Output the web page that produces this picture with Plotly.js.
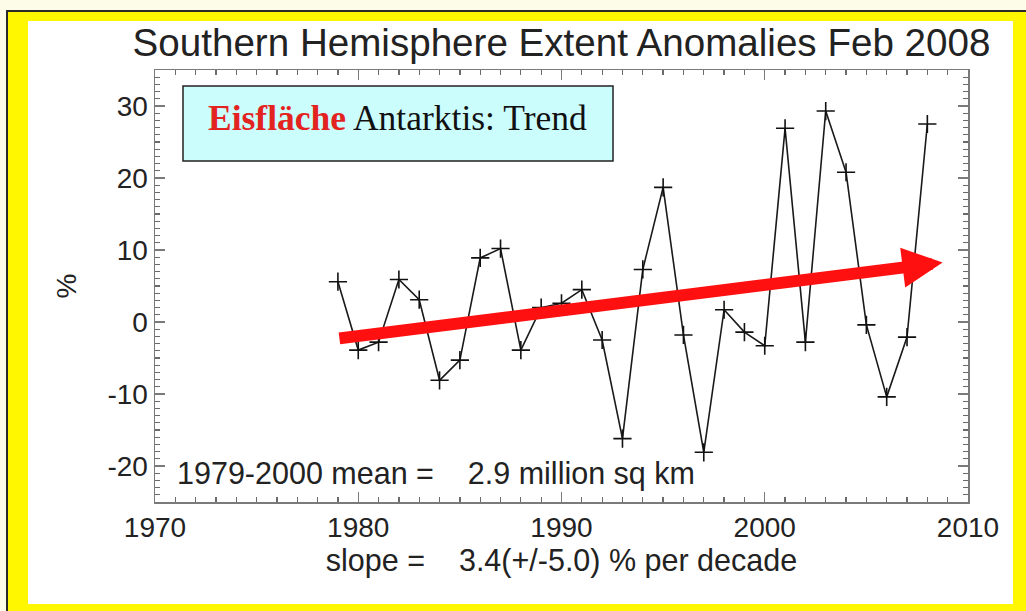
<!DOCTYPE html>
<html>
<head>
<meta charset="utf-8">
<script src="https://cdn.plot.ly/plotly-3.0.1.min.js"></script>
<style>
  html, body { margin: 0; padding: 0; background: #fdfce8; }
  #chart { width: 1026px; height: 611px; }
</style>
</head>
<body>
<div id="chart"></div>
<script>
// ---- data ----
var years = [1979, 1980, 1981, 1982, 1983, 1984, 1985, 1986, 1987, 1988,
             1989, 1990, 1991, 1992, 1993, 1994, 1995, 1996, 1997, 1998,
             1999, 2000, 2001, 2002, 2003, 2004, 2005, 2006, 2007, 2008];
var anomalies = [5.6, -3.9, -2.8, 5.9, 3.1, -8.1, -5.3, 8.9, 10.2, -3.9,
                 2.0, 2.6, 4.5, -2.5, -16.2, 7.3, 18.7, -1.8, -18.1, 1.7,
                 -1.4, -3.3, 26.9, -2.8, 29.3, 20.8, -0.4, -10.4, -2.1, 27.5];
var xTickVals = [1970, 1980, 1990, 2000, 2010];
var xTickText = ['1970', '1980', '1990', '2000', '2010'];
var yTickVals = [-20, -10, 0, 10, 20, 30];
var yTickText = ['-20', '-10', '0', '10', '20', '30'];
var xRange = [1970, 2010];
var yRange = [-25, 35];
var xMinorStep = 1;   // years between minor ticks
var yMinorStep = 1;   // percent between minor ticks
// trend arrow: start (year, %) and tip (year, %)
var trendYears = [1979, 2008.75];
var trendValues = [-2.3, 8.25];

var chartTitle = 'Southern Hemisphere Extent Anomalies Feb 2008';
var xTitle = 'slope =\u00a0\u00a0\u00a0 3.4(+/-5.0) % per decade';
var yTitle = '%';
var meanText = '1979-2000 mean =\u00a0\u00a0\u00a0 2.9 million sq km';
var boxText = '<b><span style="color:#e3231f">Eisfläche</span></b> Antarktis: Trend';

// ---- layout helpers (pixel -> paper) ----
var W = 1026, H = 611, L = 155, R = 58, T = 70, B = 109;
var pw = W - L - R, ph = H - T - B;
function px(x) { return (x - L) / pw; }
function py(y) { return (H - B - y) / ph; }

var sans = 'Liberation Sans, Arial, Helvetica, sans-serif';
var txt = '#222222';
var axisCol = '#7a7a7a';

var traces = [{
  x: years,
  y: anomalies,
  type: 'scatter',
  mode: 'lines+markers',
  line: { color: '#1a1a1a', width: 1.6 },
  marker: { symbol: 'cross-thin', size: 13, line: { color: '#111111', width: 1.6 } },
  hoverinfo: 'x+y',
  showlegend: false
}];

var layout = {
  width: W, height: H,
  margin: { l: L, r: R, t: T, b: B, pad: 0 },
  paper_bgcolor: '#fdfce8',
  plot_bgcolor: 'rgba(0,0,0,0)',
  showlegend: false,
  font: { family: sans, color: txt, size: 28 },
  title: {
    text: chartTitle,
    font: { family: sans, size: 38.6, color: txt },
    x: 0.5, xref: 'paper', xanchor: 'center',
    y: 1 - 42 / H, yref: 'container', yanchor: 'middle'
  },
  xaxis: {
    range: xRange,
    tickmode: 'array', tickvals: xTickVals, ticktext: xTickText,
    ticks: 'inside', ticklen: 10, tickwidth: 1.3, tickcolor: axisCol,
    minor: { tickmode: 'linear', tick0: xRange[0], dtick: xMinorStep, ticks: 'inside', ticklen: 5, tickcolor: '#6a6a6a' },
    showline: true, linecolor: axisCol, linewidth: 1.5, mirror: 'allticks',
    gridcolor: 'rgba(0,0,0,0)', zeroline: false,
    tickfont: { family: sans, size: 28, color: txt },
    title: { text: xTitle, font: { family: sans, size: 30.5, color: txt }, standoff: 6 }
  },
  yaxis: {
    range: yRange,
    tickmode: 'array', tickvals: yTickVals, ticktext: yTickText,
    ticks: 'inside', ticklen: 10, tickwidth: 1.3, tickcolor: axisCol,
    minor: { tickmode: 'linear', tick0: 0, dtick: yMinorStep, ticks: 'inside', ticklen: 5, tickcolor: '#6a6a6a' },
    showline: true, linecolor: axisCol, linewidth: 1.5, mirror: 'allticks',
    gridcolor: 'rgba(0,0,0,0)', zeroline: false,
    tickfont: { family: sans, size: 28, color: txt },
    title: { text: yTitle, font: { family: sans, size: 28, color: txt }, standoff: 22 }
  },
  shapes: [
    // yellow frame with dark outline
    { type: 'rect', xref: 'paper', yref: 'paper', layer: 'below',
      x0: px(7), x1: px(1040), y0: py(630), y1: py(11),
      fillcolor: '#fff700', line: { color: '#2a2a2a', width: 2 } },
    // white inner area
    { type: 'rect', xref: 'paper', yref: 'paper', layer: 'below',
      x0: px(28), x1: px(1013), y0: py(604), y1: py(21),
      fillcolor: '#ffffff', line: { width: 0 } },
    // cyan caption box
    { type: 'rect', xref: 'paper', yref: 'paper', layer: 'below',
      x0: px(183), x1: px(613), y0: py(161), y1: py(86),
      fillcolor: '#ccfdfd', line: { color: '#222222', width: 1.5 } }
  ],
  annotations: [
    { xref: 'paper', yref: 'paper', x: px(175), y: py(473),
      xanchor: 'left', yanchor: 'middle', showarrow: false,
      text: meanText, font: { family: sans, size: 30.5, color: txt } },
    { xref: 'paper', yref: 'paper', x: px(397), y: py(118),
      xanchor: 'center', yanchor: 'middle', showarrow: false,
      text: boxText, font: { family: 'Liberation Serif, Times New Roman, serif', size: 35.5, color: '#111111' } },
    { xref: 'x', yref: 'y', axref: 'x', ayref: 'y',
      x: trendYears[1], y: trendValues[1],
      ax: trendYears[0], ay: trendValues[0],
      text: '', showarrow: true,
      arrowhead: 2, arrowsize: 0.67, arrowwidth: 12, arrowcolor: '#ff1010', standoff: 0 }
  ]
};

Plotly.newPlot('chart', traces, layout, { staticPlot: true, displayModeBar: false });
</script>
</body>
</html>
